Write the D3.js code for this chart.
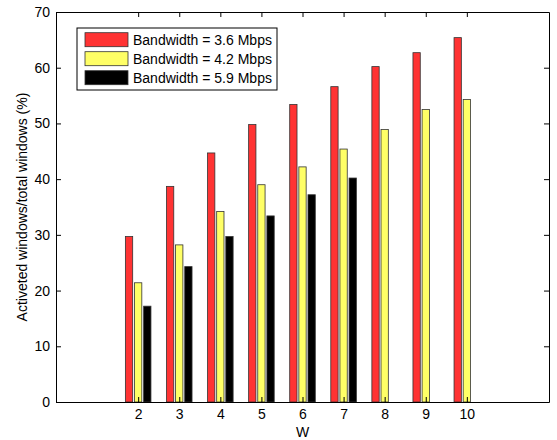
<!DOCTYPE html>
<html lang="en">
<head>
<meta charset="utf-8">
<title>Activated windows</title>
<script src="https://d3js.org/d3.v7.min.js"></script>
<style>
  body { margin: 0; background: #fff; }
  text { font-family: "Liberation Sans", Arial, sans-serif; }
</style>
</head>
<body>
<div id="chart"></div>
<script>

// data
var W = [2, 3, 4, 5, 6, 7, 8, 9, 10];
var bw36 = [29.7, 38.7, 44.7, 49.8, 53.4, 56.6, 60.2, 62.7, 65.4];
var bw42 = [21.4, 28.2, 34.2, 39.0, 42.2, 45.4, 48.9, 52.5, 54.3];
var bw59 = [17.2, 24.3, 29.7, 33.4, 37.2, 40.2, null, null, null];
var seriesNames = ["Bandwidth = 3.6 Mbps", "Bandwidth = 4.2 Mbps", "Bandwidth = 5.9 Mbps"];
var seriesColors = ["#ff3333", "#ffff66", "#000000"];
var yTicks = [0, 10, 20, 30, 40, 50, 60, 70];

var width = 557, height = 440;
var mLeft = 56, mRight = 549, mTop = 12, mBottom = 402;

var svg = d3.select("#chart").append("svg")
  .attr("width", width)
  .attr("height", height);

var x = d3.scaleLinear().domain([0, 12]).range([mLeft, mRight]);
var y = d3.scaleLinear().domain([0, 70]).range([mBottom, mTop]);

// MATLAB-style grouped bar offsets
var series = [bw36, bw42, bw59];
var groupStep = 0.667 / 3;
var barW = groupStep * 0.8;

series.forEach(function(vals, i) {
  var off = (i - 1) * groupStep;
  svg.append("g")
    .selectAll("rect")
    .data(W.map(function(w, j) { return {w: w, v: vals[j]}; }).filter(function(d) { return d.v != null; }))
    .enter()
    .append("rect")
      .attr("x", function(d) { return x(d.w + off - barW / 2); })
      .attr("width", function(d) { return x(d.w + off + barW / 2) - x(d.w + off - barW / 2); })
      .attr("y", function(d) { return y(d.v); })
      .attr("height", function(d) { return y(0) - y(d.v); })
      .attr("fill", seriesColors[i])
      .attr("stroke", "#333")
      .attr("stroke-width", 0.8);
});

// axes (ticks pointing inward, box all around)
var xAxis = d3.axisBottom(x).tickValues(W).tickSizeInner(-5).tickSizeOuter(0).tickPadding(7);
var yAxis = d3.axisLeft(y).tickValues(yTicks).tickSizeInner(-5).tickSizeOuter(0).tickPadding(6);

var gx = svg.append("g").attr("transform", "translate(0," + mBottom + ")").call(xAxis);
var gy = svg.append("g").attr("transform", "translate(" + mLeft + ",0)").call(yAxis);
var gxt = svg.append("g").attr("transform", "translate(0," + mTop + ")")
  .call(d3.axisTop(x).tickValues(W).tickSizeInner(-5).tickSizeOuter(0).tickFormat(""));
var gyr = svg.append("g").attr("transform", "translate(" + mRight + ",0)")
  .call(d3.axisRight(y).tickValues(yTicks).tickSizeInner(-5).tickSizeOuter(0).tickFormat(""));

[gx, gy, gxt, gyr].forEach(function(g) {
  g.attr("font-size", 14).attr("font-family", "'Liberation Sans', Arial, sans-serif");
  g.selectAll("path").attr("stroke", "#000").attr("stroke-width", 1);
  g.selectAll("line").attr("stroke", "#000");
  g.selectAll("text").attr("fill", "#000");
});

// axis labels
svg.append("text")
  .attr("x", (mLeft + mRight) / 2)
  .attr("y", 437)
  .attr("text-anchor", "middle")
  .attr("font-size", 14)
  .text("W");

svg.append("text")
  .attr("transform", "translate(27," + (mTop + mBottom) / 2 + ") rotate(-90)")
  .attr("text-anchor", "middle")
  .attr("font-size", 14)
  .text("Activeted windows/total windows (%)");

// legend
var legend = svg.append("g");
legend.append("rect")
  .attr("x", 77).attr("y", 28)
  .attr("width", 200).attr("height", 62)
  .attr("fill", "#fff").attr("stroke", "#000");

seriesNames.forEach(function(name, i) {
  var cy = 39.7 + i * 19;
  legend.append("rect")
    .attr("x", 85).attr("y", cy - 7)
    .attr("width", 43).attr("height", 14)
    .attr("fill", seriesColors[i])
    .attr("stroke", "#333").attr("stroke-width", 0.8);
  legend.append("text")
    .attr("x", 133).attr("y", cy + 5)
    .attr("font-size", 14)
    .text(name);
});

</script>
</body>
</html>
